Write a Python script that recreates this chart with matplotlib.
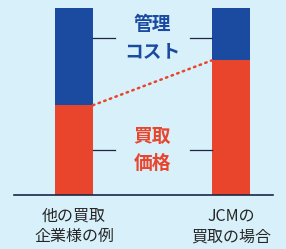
import matplotlib
matplotlib.use("Agg")
import matplotlib.pyplot as plt

plt.rcParams['font.family'] = ['Noto Sans CJK JP', 'DejaVu Sans']

# data (share of total, %)
cases = ['他の買取\n企業様の例', 'JCMの\n買取の場合']
price = [48, 72]      # 買取価格
cost = [52, 28]       # 管理コスト
guide_levels = [24, 84]
seg_labels = ['買取\n価格', '管理\nコスト']

BG = '#d8f0fa'
RED = '#e8452c'
BLUE = '#1b4ba0'
NAVY = '#1a2747'

fig = plt.figure(figsize=(2.86, 2.49), dpi=100, facecolor=BG)
ax = fig.add_axes([0.049, 0.2169, 0.9056, 0.751])
ax.set_facecolor(BG)

x = [0, 1]
w = 0.242
ax.bar(x, price, width=w, color=RED, linewidth=0)
ax.bar(x, cost, width=w, bottom=price, color=BLUE, linewidth=0)

# guide ticks pointing to the labels in the middle
tick_len = 0.14
for lev in guide_levels:
    ax.plot([x[0] + w / 2, x[0] + w / 2 + tick_len], [lev, lev], color=NAVY, lw=0.9)
    ax.plot([x[1] - w / 2 - tick_len, x[1] - w / 2], [lev, lev], color=NAVY, lw=0.9)

# dotted connector between the price tops
ax.plot([x[0] + w / 2, x[1] - w / 2], [price[0], price[1]], color=RED,
        lw=1.8, linestyle=(0, (0.6, 1.8)), dash_capstyle='round')

mid = (x[0] + x[1]) / 2
ax.text(mid, guide_levels[0], seg_labels[0], color=RED, fontsize=13.5,
        fontweight='bold', ha='center', va='center', linespacing=1.5)
ax.text(mid, guide_levels[1], seg_labels[1], color=BLUE, fontsize=13.5,
        fontweight='bold', ha='center', va='center', linespacing=1.5)

ax.set_xlim(-0.382, 1.268)
ax.set_ylim(0, 100)
ax.set_xticks(x)
ax.set_xticklabels(cases, fontsize=11.5, color='#262626', linespacing=1.3)
ax.tick_params(axis='x', length=0, pad=9)
ax.set_yticks([])
for side in ['top', 'right', 'left']:
    ax.spines[side].set_visible(False)
ax.spines['bottom'].set_color(NAVY)
ax.spines['bottom'].set_linewidth(1.2)

fig.savefig('out.png', dpi=100, facecolor=BG)
